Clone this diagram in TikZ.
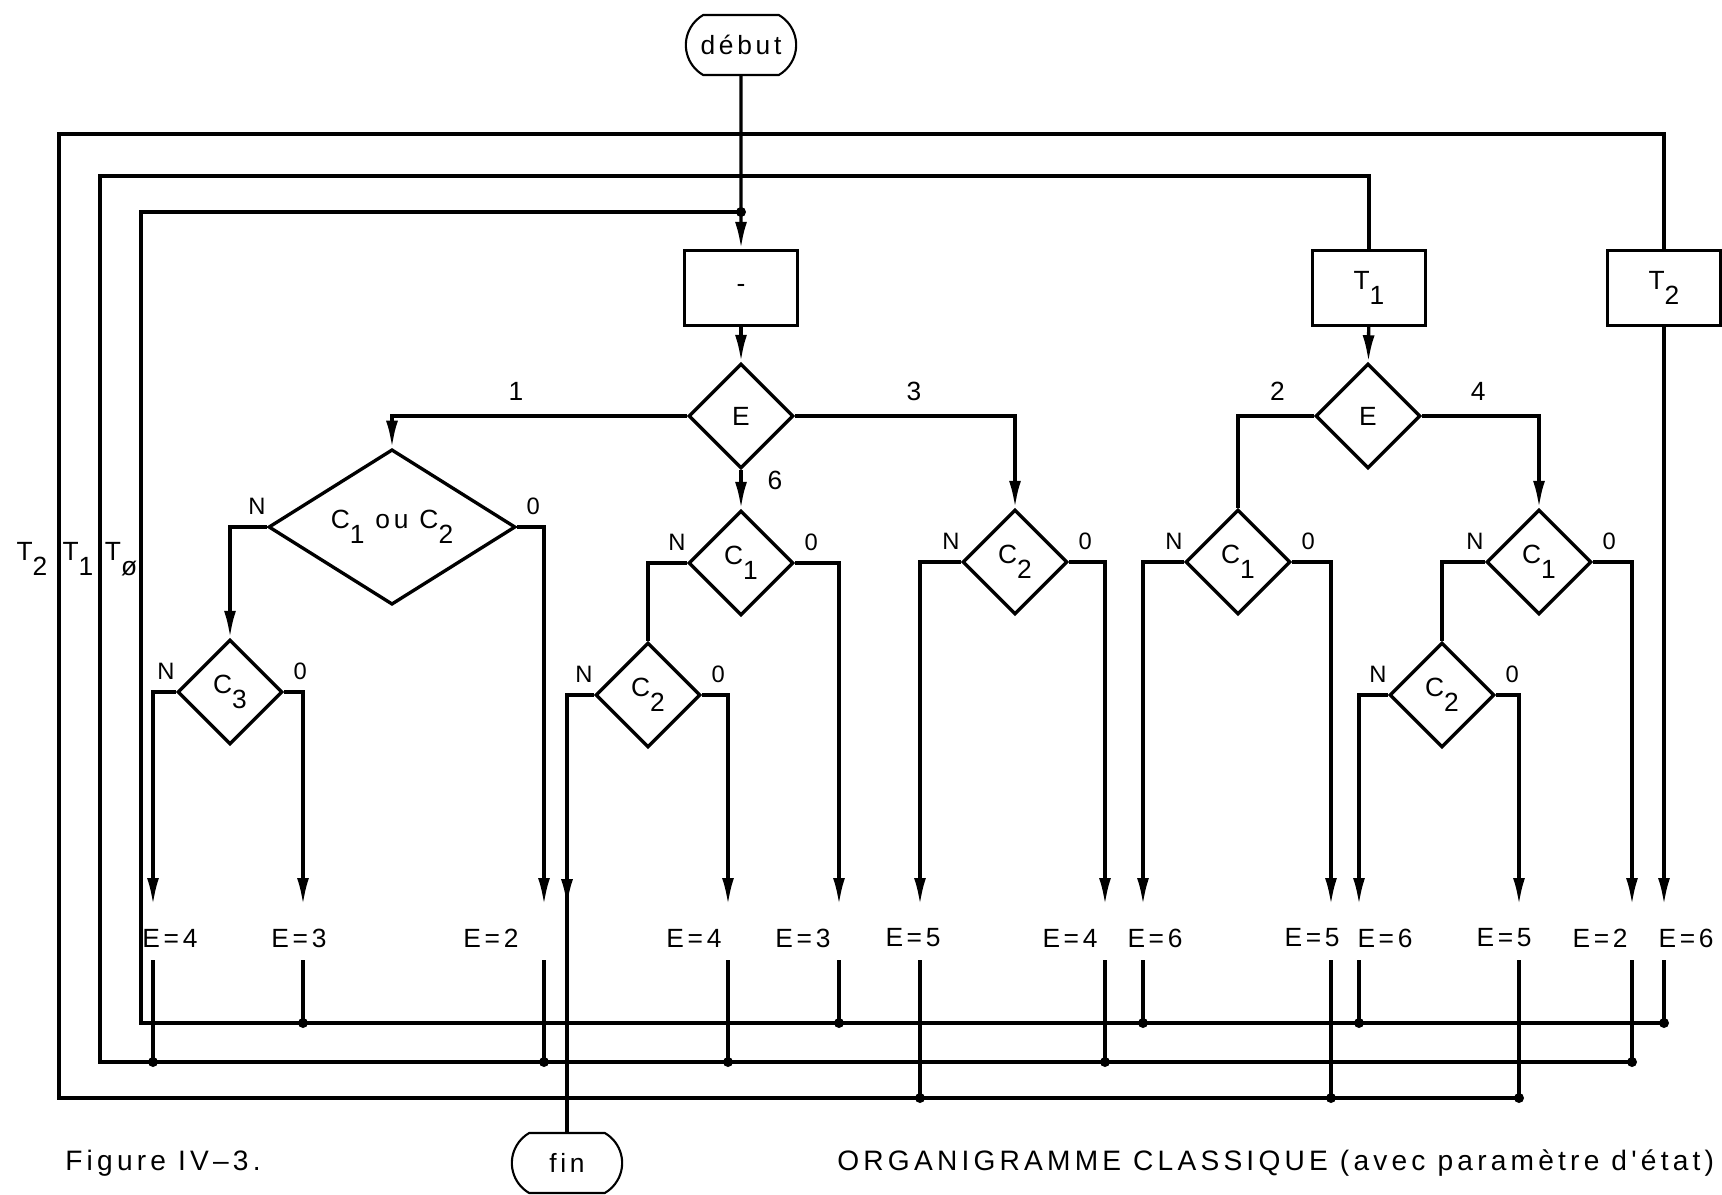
\documentclass[tikz,border=0pt]{standalone}
\usepackage{fontspec}
\setmainfont{Liberation Sans}[LetterSpace=14]
\newfontfamily\capfont{Liberation Sans}[LetterSpace=15]
\usepackage{tikz}
\usetikzlibrary{arrows.meta, shapes.geometric, shapes.misc, positioning, calc,
                decorations.markings}
\newcommand{\lowidx}[1]{\raisebox{-0.55em}{#1}}

\begin{document}
\begin{tikzpicture}[x=0.2mm, y=-0.2mm,
  every node/.style={font=\fontsize{15}{17}\selectfont},
  line/.style={line width=1.9pt},
  arr/.style={line, -{Latex[length=5.4mm, width=2.4mm]}},
  midarr/.style={line, postaction={decorate}, decoration={markings,
                 mark=at position #1 with {\arrow{Latex[length=5.4mm, width=2.4mm]}}}},
  proc/.style={draw, line width=1.9pt, minimum width=2.26cm,
               minimum height=1.5cm, inner sep=0pt},
  test/.style={draw, diamond, line width=1.9pt, minimum width=2.1cm,
               minimum height=2.1cm, inner sep=0pt},
  bigtest/.style={test, minimum width=4.94cm, minimum height=2.8cm},
  term/.style={draw, rounded rectangle, rounded rectangle arc length=120,
               line width=1.2pt, minimum width=2.44cm, minimum height=1.2cm},
  lbl/.style={inner sep=0pt},
  yn/.style={lbl, font=\fontsize{13.5}{15}\selectfont},
  dot/.style={circle, fill, inner sep=0pt, minimum size=2mm},
  capt/.style={lbl, anchor=west, font=\capfont\fontsize{16}{18}\selectfont},
]
\useasboundingbox (0,0) rectangle (1722,1195);

%% ── TERMINALS AND PROCESS BOXES ───────────────────────────────────────
\node[term] (debut) at (741,45)   {début};
\node[proc] (init)  at (741,288)  {-};
\node[proc] (t1box) at (1369,288) {T\lowidx{1}};
\node[proc] (t2box) at (1664,288) {T\lowidx{2}};
\node[term] (fin)   at (567,1163) {fin};

%% ── TESTS ─────────────────────────────────────────────────────────────
\node[test]    (etat)  at (741,416)  {E};
\node[test]    (etatb) at (1368,416) {E};
\node[bigtest] (c12)   at (392,527)  {C\lowidx{1} ou C\lowidx{2}};
\node[test]    (c3)    at (230,692)  {C\lowidx{3}};
\node[test]    (c1a)   at (741,563)  {C\lowidx{1}};
\node[test]    (c2a)   at (648,695)  {C\lowidx{2}};
\node[test]    (c2b)   at (1015,562) {C\lowidx{2}};
\node[test]    (c1b)   at (1238,562) {C\lowidx{1}};
\node[test]    (c1c)   at (1539,562) {C\lowidx{1}};
\node[test]    (c2c)   at (1442,695) {C\lowidx{2}};

\foreach \d in {c12, c3, c1a, c2a, c2b, c1b, c1c, c2c} {
  \node[yn] (n-\d) at ([shift={(-10,-21)}]\d.west) {N};
  \node[yn] (o-\d) at ([shift={(16,-21)}]\d.east)  {0};
}

%% ── COLUMN ENDS, STATE LABELS, RETURN BUSES ───────────────────────────
\foreach \i/\x in {1/153, 2/303, 3/544, 5/728, 6/839, 7/920,
                   8/1105, 9/1143, 10/1331, 11/1359, 12/1519, 13/1632, 14/1664} {
  \coordinate (tip\i) at (\x,905);
  \coordinate (low\i) at (\x,960);
}
\foreach \i/\x/\v in {1/170/4, 2/299/3, 3/491/2, 5/694/4, 6/803/3, 7/913/5,
                      8/1070/4, 9/1155/6, 10/1312/5, 11/1385/6, 12/1504/5,
                      13/1600/2, 14/1686/6}
  \node[lbl] (e\i) at (\x,938) {E=\v};

\coordinate (busI) at (141,1023);
\coordinate (busM) at (100,1062);
\coordinate (busO) at (59,1098);
\coordinate (topM) at (100,176);
\coordinate (topO) at (59,134);
\coordinate (join) at (741,212);

\node[lbl] (lt2) at (32,559)  {T\lowidx{2}};
\node[lbl] (lt1) at (78,559)  {T\lowidx{1}};
\node[lbl] (lt0) at (121,559) {T\lowidx{ø}};

%% ── MAIN FLOW ─────────────────────────────────────────────────────────
\draw[arr] (debut) -- (init);
\draw[arr] (init) -- (etat);
\draw[arr] (etat.west) -| node[lbl, pos=0.29, above=0.28cm] {1} (c12.north);
\draw[arr] (etat.east) -| node[lbl, pos=0.27, above=0.28cm] {3} (c2b.north);
\draw[arr] (etat.south) -- node[lbl, pos=0.27, right=0.5cm] {6} (c1a.north);
\draw[arr] (t1box) -- (etatb);
\draw[line] (etatb.west) -| node[lbl, pos=0.24, above=0.28cm] {2} (c1b.north);
\draw[arr] (etatb.east) -| node[lbl, pos=0.24, above=0.28cm] {4} (c1c.north);
\draw[arr] (c12.west) -| (c3.north);
\draw[line] (c1a.west) -| (c2a.north);
\draw[line] (c1c.west) -| (c2c.north);

%% ── BRANCHES DOWN TO THE STATE LABELS ─────────────────────────────────
\draw[arr] (c3.west) -| (tip1);
\draw[arr] (c3.east) -| (tip2);
\draw[arr] (c12.east) -| (tip3);
\draw[midarr=4.76cm] (c2a.west) -| (fin.north);
\draw[arr] (c2a.east) -| (tip5);
\draw[arr] (c1a.east) -| (tip6);
\draw[arr] (c2b.west) -| (tip7);
\draw[arr] (c2b.east) -| (tip8);
\draw[arr] (c1b.west) -| (tip9);
\draw[arr] (c1b.east) -| (tip10);
\draw[arr] (c2c.west) -| (tip11);
\draw[arr] (c2c.east) -| (tip12);
\draw[arr] (c1c.east) -| (tip13);
\draw[arr] (t2box.south) -- (tip14);

%% ── LOOPS BACK TO -, T1, T2 ───────────────────────────────────────────
\draw[line] (low14 |- busI) -- (busI) |- (join) node[dot] (jdot) {};
\draw[line] (low13 |- busM) -- (busM) -- (topM) -| (t1box.north);
\draw[line] (low12 |- busO) -- (busO) -- (topO) -| (t2box.north);

\foreach \i/\b in {1/busM, 2/busI, 3/busM, 5/busM, 6/busI, 7/busO, 8/busM,
                   9/busI, 10/busO, 11/busI, 12/busO, 13/busM, 14/busI}
  \draw[line] (low\i) -- (low\i |- \b) node[dot] (d\i) {};

%% ── CAPTIONS ──────────────────────────────────────────────────────────
\node[capt] (fig) at (65,1163)  {Figure IV–3.};
\node[capt] (cap) at (837,1163) {ORGANIGRAMME CLASSIQUE (avec paramètre d'état)};

\end{tikzpicture}
\end{document}
